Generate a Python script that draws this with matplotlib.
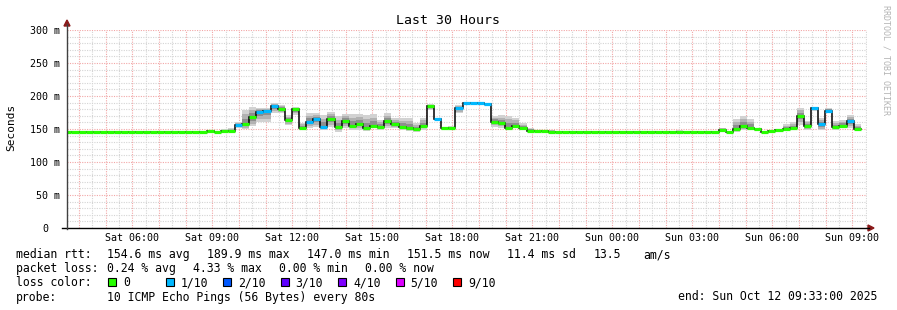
import numpy as np
import matplotlib
matplotlib.use("Agg")
import matplotlib.pyplot as plt
from matplotlib.patches import Polygon, Rectangle
from matplotlib.lines import Line2D
from datetime import datetime, timedelta

# ---------------- data ----------------
start = datetime(2025, 10, 11, 3, 33)
end = datetime(2025, 10, 12, 9, 33)
step_minutes = 16
first_step = datetime(2025, 10, 11, 3, 27)

median_ms = [146] * 19 + [146, 147, 146, 147, 147,
    156, 157, 168, 176, 177, 185, 181, 163, 180, 152,
    161, 165, 153, 165, 153.5, 162, 155, 157, 152, 155,
    153, 162, 157, 153, 152, 150, 155, 185, 165, 151.5,
    152, 182, 189.5, 189.5, 189.5, 188, 161, 159, 151.5, 155,
    151.5, 147.5, 147.5, 147] + [146] * 24 + [
    148, 146, 150, 155, 151.5, 150, 146, 147, 148, 150,
    151.5, 170, 155, 182, 157, 178, 153, 155, 162, 150]

smoke_hi_ms = [146] * 19 + [146, 148, 147, 150, 152,
    160, 179, 183, 182, 182, 189, 186, 171, 183, 159,
    174, 174, 171, 176, 169, 173, 172, 173, 171, 172,
    164, 174, 167, 167, 167, 159, 167, 188, 167, 153,
    154, 186, 191, 191, 191, 190, 170, 171, 170, 167,
    159, 152, 149, 148] + [149] + [146] * 17 + [148] + [146] * 5 + [
    152, 147, 165, 169, 165, 152, 147, 148, 149, 157,
    161, 182, 162, 184, 167, 182, 162, 164, 171, 157]

smoke_lo_ms = [146] * 19 + [146, 146, 146, 146, 146,
    151, 150, 154, 161, 161, 174, 174, 156, 171, 148,
    151, 153, 148, 153, 146, 151, 149, 149, 147, 151,
    149, 151, 151, 149, 147, 146, 149, 179, 163, 148,
    148, 174, 188, 188, 188, 185, 153, 152, 148, 151,
    148, 146, 146, 146] + [146] * 24 + [
    146, 146, 146, 148, 148, 147, 146, 146, 146, 147,
    148, 156, 148, 177, 148, 174, 148, 151, 151.5, 148]

loss_tenths = [0] * 24 + [1, 0, 0, 1, 1, 1, 0, 0, 0, 0,
    1, 1, 1, 0, 0, 0, 0, 0, 0, 0,
    0, 0, 0, 0, 0, 0, 0, 0, 1, 0,
    0, 1, 1, 1, 1, 1, 0, 0, 0, 0,
    0, 0, 0, 0] + [0] * 24 + [
    0, 0, 0, 0, 0, 0, 0, 0, 0, 0,
    0, 0, 0, 1, 1, 1, 0, 0, 1, 0]

loss_colors = {0: "#26ff00", 1: "#00b8ff", 2: "#0059ff", 3: "#5e00ff",
               4: "#7e00ff", 5: "#dd00ff", 9: "#ff0000"}
legend_labels = ["0", "1/10", "2/10", "3/10", "4/10", "5/10", "9/10"]
legend_keys = [0, 1, 2, 3, 4, 5, 9]

ytick_values = [0, 50, 100, 150, 200, 250, 300]
ytick_labels = ["0", "50 m", "100 m", "150 m", "200 m", "250 m", "300 m"]
xtick_times = [datetime(2025, 10, 11, 6) + timedelta(hours=3 * i) for i in range(10)]

stats_rtt = ["154.6 ms avg", "189.9 ms max", "147.0 ms min", "151.5 ms now",
             "11.4 ms sd", "13.5", "am/s"]
stats_loss = ["0.24 % avg", "4.33 % max", "0.00 % min", "0.00 % now"]
probe_text = "10 ICMP Echo Pings (56 Bytes) every 80s"
end_text = "end: Sun Oct 12 09:33:00 2025"

# ---------------- layout ----------------
W, H = 897, 310
MONO = "DejaVu Sans Mono"
plt.rcParams["font.family"] = MONO

fig = plt.figure(figsize=(W / 100, H / 100), dpi=100)
fig.patch.set_facecolor("white")
X0, X1, Y0, Y1 = 67, 867, 228, 30
ax = fig.add_axes([X0 / W, 1 - Y0 / H, (X1 - X0) / W, (Y0 - Y1) / H])
ax.set_facecolor("white")

def hours(t):
    return (t - start).total_seconds() / 3600.0

total_h = hours(end)
ax.set_xlim(0, total_h)
ax.set_ylim(0, 300)
for s in ax.spines.values():
    s.set_visible(False)
ax.set_xticks([])
ax.set_yticks([])

def fx(x):
    return x / W

def fy(y):
    return 1 - y / H

# grid
red = "#f2a6a6"
grey = "#d4d4d4"
for v in range(10, 301, 10):
    ax.axhline(v, color=red if v % 50 == 0 else grey, lw=0.8,
               ls=(0, (1, 1.2)), zorder=1)
h0 = hours(datetime(2025, 10, 11, 3, 30))
g = h0
while g <= total_h + 1e-9:
    if g > 0:
        major = abs(round(g - hours(datetime(2025, 10, 11, 4)), 6) % 1) < 1e-6
        ax.axvline(g, color=red if major else grey, lw=0.8,
                   ls=(0, (1, 1.2)), zorder=1)
    g += 0.5

# data geometry
n = len(median_ms)
med = np.array(median_ms, float)
hi = np.array(smoke_hi_ms, float)
lo = np.array(smoke_lo_ms, float)
step_h = step_minutes / 60.0
left = hours(first_step) + step_h * np.arange(n)
right = left + step_h

# smoke layers
layers = [(1.0, "#d2d2d2"), (0.7, "#b2b2b2"), (0.4, "#8e8e8e")]
for frac, col in layers:
    top = med + frac * (hi - med)
    bot = med - frac * (med - lo)
    ax.bar(left, top - bot, width=step_h, bottom=bot, align="edge",
           color=col, linewidth=0, zorder=2)

# black median step line
xs = np.append(left, right[-1])
ax.step(xs, np.append(med, med[-1]), where="post", color="black",
        lw=1.1, zorder=3, solid_joinstyle="miter")
# loss-coloured median segments
ax.hlines(med, left, right, colors=[loss_colors[l] for l in loss_tenths],
          lw=2.3, zorder=4)

# axes lines and arrows
fig.add_artist(Line2D([fx(62), fx(869)], [fy(228), fy(228)], color="black", lw=1.0))
fig.add_artist(Line2D([fx(67), fx(67)], [fy(229), fy(24)], color="#404040", lw=1.0))
arrow_c = "#8b1a1a"
fig.add_artist(Polygon([(fx(64), fy(26)), (fx(70), fy(26)), (fx(67), fy(20))],
                       closed=True, color=arrow_c, transform=fig.transFigure))
fig.add_artist(Polygon([(fx(868), fy(225)), (fx(868), fy(231)), (fx(874), fy(228))],
                       closed=True, color=arrow_c, transform=fig.transFigure))

# y tick labels
for v, lab in zip(ytick_values, ytick_labels):
    ypx = Y0 - v * (Y0 - Y1) / 300.0
    xr = 60 if lab != "0" else 48
    fig.text(fx(xr), fy(ypx + 3.6), lab, ha="right", va="baseline",
             fontsize=7.2, family=MONO)

# x tick labels
for t in xtick_times:
    xpx = X0 + hours(t) * (X1 - X0) / total_h
    fig.text(fx(xpx), fy(241), t.strftime("%a %H:%M"), ha="center",
             va="baseline", fontsize=7.2, family=MONO)

# title, y label, watermark
fig.text(fx(448), fy(24), "Last 30 Hours", ha="center", va="baseline",
         fontsize=9.5, family=MONO)
fig.text(fx(11), fy(127), "Seconds", ha="center", va="center",
         rotation=90, fontsize=8, family=MONO)
fig.text(fx(886), fy(60), "RRDTOOL / TOBI OETIKER", ha="center", va="center",
         rotation=270, fontsize=6, family=MONO, color="#b4b4b4")

# legend
LF = 8.3
fig.text(fx(16), fy(258), "median rtt:", fontsize=LF, family=MONO, va="baseline")
for xp, s in zip([107, 207, 307, 407, 507, 594, 643], stats_rtt):
    fig.text(fx(xp), fy(258), s, fontsize=LF, family=MONO, va="baseline")
fig.text(fx(16), fy(272), "packet loss:", fontsize=LF, family=MONO, va="baseline")
for xp, s in zip([107, 193, 279, 365], stats_loss):
    fig.text(fx(xp), fy(272), s, fontsize=LF, family=MONO, va="baseline")
fig.text(fx(16), fy(286.5), "loss color:", fontsize=LF, family=MONO, va="baseline")
for i, (k, lab) in enumerate(zip(legend_keys, legend_labels)):
    sx = 108 + i * 57.5
    fig.add_artist(Rectangle((fx(sx), fy(286)), 8 / W, 8 / H,
                             facecolor=loss_colors[k], edgecolor="black",
                             lw=0.8, transform=fig.transFigure))
    fig.text(fx(sx + 15), fy(286.5), lab, fontsize=LF, family=MONO, va="baseline")
fig.text(fx(16), fy(300.5), "probe:", fontsize=LF, family=MONO, va="baseline")
fig.text(fx(107), fy(300.5), probe_text, fontsize=LF, family=MONO, va="baseline")
fig.text(fx(678), fy(300.5), end_text, fontsize=LF, family=MONO, va="baseline")

fig.savefig("out.png", dpi=100, facecolor="white")
